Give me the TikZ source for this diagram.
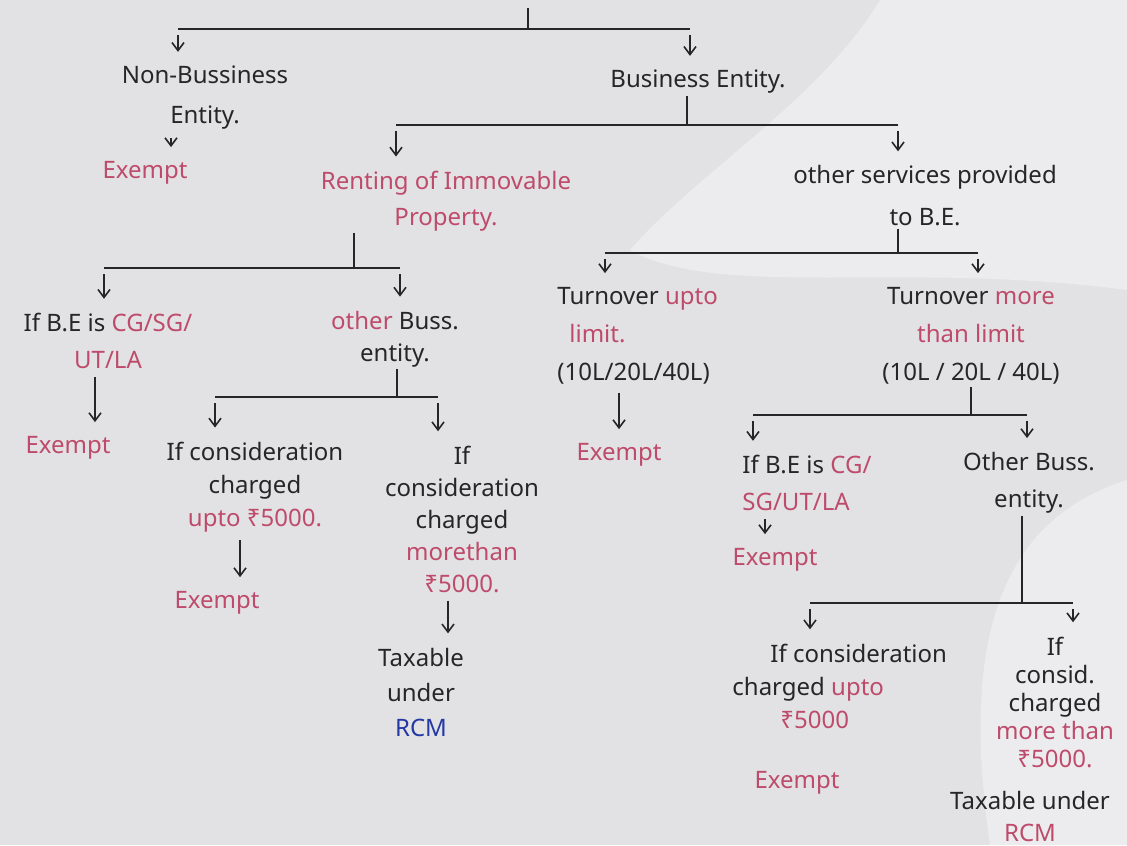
\documentclass[tikz,border=0pt]{standalone}
\usepackage{fontspec}
\setmainfont{Noto Sans}
\usetikzlibrary{arrows.meta}

\definecolor{ink}{HTML}{262626}
\definecolor{pinkred}{HTML}{BE4B6B}
\definecolor{rcmblue}{HTML}{2438A6}
\definecolor{paper}{HTML}{E2E2E4}
\definecolor{paperlight}{HTML}{ECECEE}

\newcommand{\pk}[1]{\textcolor{pinkred}{#1}}

\begin{document}
\begin{tikzpicture}[x=0.5pt,y=-0.5pt,
  txt/.style={align=center, inner sep=1pt, text=ink, font=\fontsize{12}{#1}\selectfont},
  txt/.default=18,
  ex/.style={txt, text=pinkred},
  conn/.style={draw=ink, line width=0.8pt},
  arr/.style={conn, -{Straight Barb[length=4pt,width=6pt]}, shorten <=3pt, shorten >=6pt}]

% paper
\fill[paper] (0,0) rectangle (1127,845);
\fill[paperlight] (880,0) .. controls (820,100) and (700,170) .. (630,250)
  .. controls (720,300) and (900,260) .. (1127,290) -- (1127,0) -- cycle;
\fill[paperlight] (1127,480) .. controls (1000,520) and (960,640) .. (990,845) -- (1127,845) -- cycle;
\useasboundingbox (0,0) rectangle (1127,845);

% first level
\node[txt=20] (nbe) at (205,98) {Non-Bussiness\\Entity.};
\node[ex] (nbex) at (145,173) {Exempt};
\node[txt] (be) at (698,82) {Business Entity.};

% business entity
\node[ex=19] (ren) at (446,201) {Renting of Immovable\\Property.};
\node[txt=21] (osv) at (925,196) {other services provided\\to B.E.};

% renting of immovable property
\node[txt=18.5] (cg1) at (108,341) {If B.E is \pk{CG/SG/}\\\pk{UT/LA}};
\node[ex] (cg1ex) at (68,448) {Exempt};
\node[txt=16] (obe1) at (395,339) {\pk{other} Buss.\\entity.};
\node[txt=16.5] (up1) at (255,487) {If consideration\\charged\\\pk{upto ₹5000.}};
\node[ex] (up1ex) at (217,603) {Exempt};
\node[txt=16] (mt1) at (462,519) {If\\consideration\\charged\\\pk{morethan}\\\pk{₹5000.}};
\node[txt=17.5] (tx1) at (421,692) {Taxable\\under\\\textcolor{rcmblue}{RCM}};

% other services
\node[txt=19, align=left, anchor=west] (tul) at (555,336) {Turnover \pk{upto}\\\hspace*{6pt}\pk{limit.}\\(10L/20L/40L)};
\node[ex] (tulex) at (619,455) {Exempt};
\node[txt=19] (tml) at (971,336) {Turnover \pk{more}\\\pk{than limit}\\(10L / 20L / 40L)};
\node[txt=18.5, align=left, anchor=west] (cg2) at (740,483) {If B.E is \pk{CG/}\\\pk{SG/UT/LA}};
\node[ex] (cg2ex) at (775,560) {Exempt};
\node[txt=18.5] (obe2) at (1029,483) {Other Buss.\\entity.};
\node[txt=16.5, align=left, anchor=west] (up2) at (730,686) {\hspace*{19pt}If consideration\\charged \pk{upto}\\\hspace*{24pt}\pk{₹5000}};
\node[ex] (up2ex) at (797,783) {Exempt};
\node[txt=14] (mt2) at (1055,702) {If\\consid.\\charged\\\pk{more than}\\\pk{₹5000.}};
\node[txt=16] (tx2) at (1030,816) {Taxable under\\\pk{RCM}};

% brackets
\coordinate (root) at (528,8);
\coordinate (b0l) at (178,29); \coordinate (b0r) at (690,29);
\draw[conn] (root) -- (root |- b0l);
\draw[conn] (b0l) -- (b0r);
\draw[arr] (b0l) -- (b0l |- nbe.north);
\draw[arr] (b0r) -- (b0r |- be.north);
\draw[arr] ([xshift=-17pt]nbe.south) -- ([xshift=-17pt]nbe.south |- nbex.north);

\coordinate (t1) at (687,125);
\coordinate (b1l) at (396,125); \coordinate (b1r) at (898,125);
\draw[conn] (be.south -| t1) -- (t1);
\draw[conn] (b1l) -- (b1r);
\draw[arr] (b1l) -- (b1l |- ren.north);
\draw[arr] (b1r) -- (b1r |- osv.north);

\coordinate (t3) at (354,268);
\coordinate (b3l) at (104,268); \coordinate (b3r) at (400,268);
\draw[conn] (ren.south -| t3) -- (t3);
\draw[conn] (b3l) -- (b3r);
\draw[arr] (b3l) -- (b3l |- cg1.north);
\draw[arr] (b3r) -- (b3r |- obe1.north);
\draw[arr] ([xshift=-6.5pt]cg1.south) -- ([xshift=-6.5pt]cg1.south |- cg1ex.north);

\coordinate (t6) at (397,397);
\coordinate (b6l) at (215,397); \coordinate (b6r) at (438,397);
\draw[conn] (obe1.south -| t6) -- (t6);
\draw[conn] (b6l) -- (b6r);
\draw[arr] (b6l) -- (b6l |- up1.north);
\draw[arr] (b6r) -- (b6r |- mt1.north);
\draw[arr] ([xshift=-7.5pt]up1.south) -- ([xshift=-7.5pt]up1.south |- up1ex.north);
\draw[arr] ([xshift=-7pt]mt1.south) -- ([xshift=-7pt]mt1.south |- tx1.north);

\coordinate (t2) at (898,253);
\coordinate (b2l) at (605,253); \coordinate (b2r) at (978,253);
\draw[conn] (osv.south -| t2) -- (t2);
\draw[conn] (b2l) -- (b2r);
\draw[arr] (b2l) -- (b2l |- tul.north);
\draw[arr] (b2r) -- (b2r |- tml.north);
\draw[arr] (tulex.north |- tul.south) -- (tulex.north);

\coordinate (t4) at (971,415);
\coordinate (b4l) at (753,415); \coordinate (b4r) at (1027,415);
\draw[conn] (tml.south -| t4) -- (t4);
\draw[conn] (b4l) -- (b4r);
\draw[arr] (b4l) -- (b4l |- cg2.north);
\draw[arr] (b4r) -- (b4r |- obe2.north);
\draw[arr] ([xshift=-5pt]cg2ex.north |- cg2.south) -- ([xshift=-5pt]cg2ex.north);

\coordinate (t5) at (1022,603);
\coordinate (b5l) at (810,603); \coordinate (b5r) at (1073,603);
\draw[conn] (obe2.south -| t5) -- (t5);
\draw[conn] (b5l) -- (b5r);
\draw[arr] (b5l) -- (b5l |- up2.north);
\draw[arr] (b5r) -- (b5r |- mt2.north);
\end{tikzpicture}
\end{document}
